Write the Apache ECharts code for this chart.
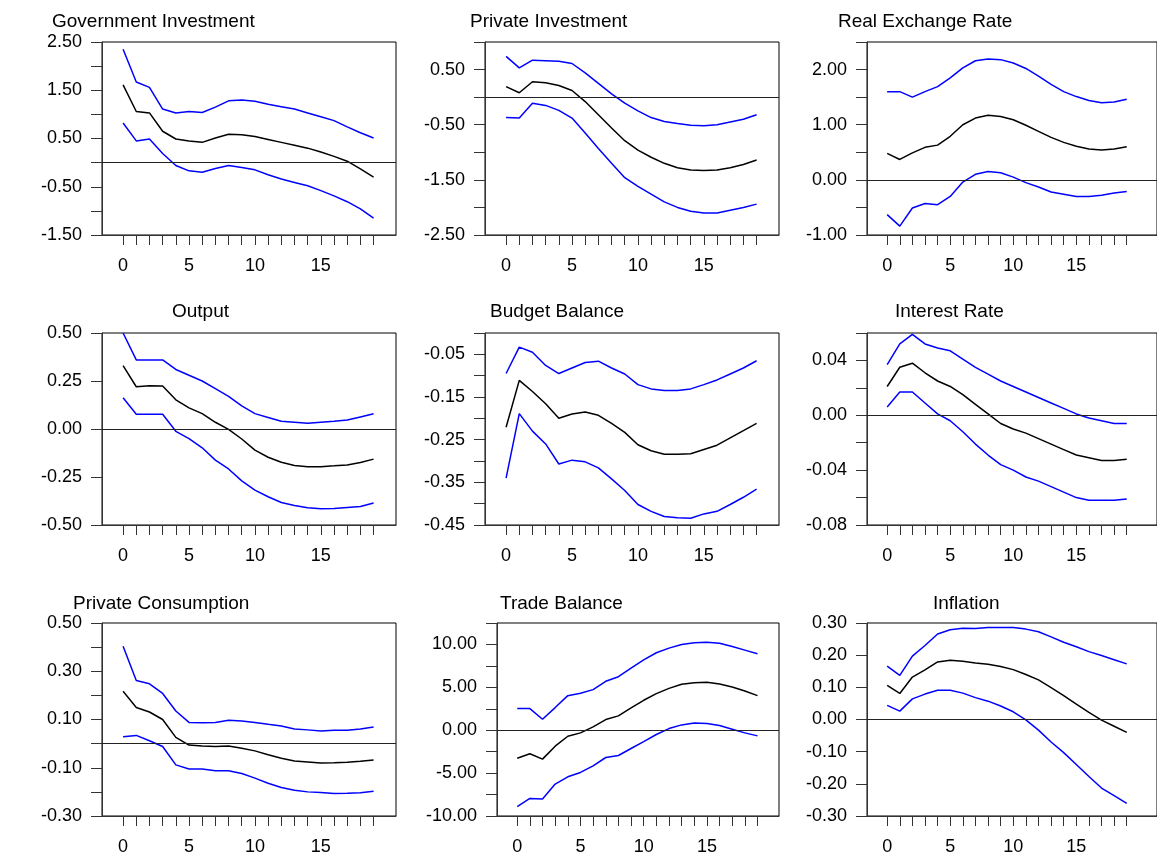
<!DOCTYPE html>
<html>
<head>
<meta charset="utf-8">
<script src="https://cdn.jsdelivr.net/npm/echarts@6/dist/echarts.min.js"></script>
<style>html,body{margin:0;padding:0;background:#fff}#chart{width:1157px;height:858px}</style>
</head>
<body>
<div id="chart"></div>
<script>
var steps = [0,1,2,3,4,5,6,7,8,9,10,11,12,13,14,15,16,17,18,19];
var xTicks = steps;
var xLabels = [0,5,10,15];

// Government Investment
var govUp  = [2.35,1.67,1.56,1.11,1.03,1.06,1.04,1.15,1.28,1.30,1.27,1.21,1.16,1.11,1.03,0.95,0.87,0.74,0.62,0.51];
var govMid = [1.61,1.06,1.03,0.65,0.49,0.45,0.42,0.51,0.59,0.58,0.54,0.48,0.42,0.36,0.30,0.22,0.13,0.03,-0.13,-0.30];
var govLo  = [0.82,0.45,0.49,0.19,-0.06,-0.17,-0.20,-0.12,-0.06,-0.10,-0.15,-0.25,-0.34,-0.41,-0.48,-0.58,-0.69,-0.81,-0.96,-1.15];
// Private Investment
var pinvUp  = [0.74,0.53,0.67,0.66,0.65,0.61,0.44,0.25,0.06,-0.11,-0.25,-0.37,-0.44,-0.48,-0.51,-0.52,-0.50,-0.45,-0.40,-0.32];
var pinvMid = [0.19,0.08,0.28,0.26,0.21,0.12,-0.08,-0.32,-0.56,-0.79,-0.96,-1.09,-1.20,-1.28,-1.32,-1.33,-1.32,-1.28,-1.22,-1.14];
var pinvLo  = [-0.37,-0.38,-0.11,-0.15,-0.24,-0.38,-0.65,-0.93,-1.20,-1.46,-1.62,-1.76,-1.90,-2.00,-2.07,-2.10,-2.10,-2.05,-2.00,-1.94];
// Real Exchange Rate
var rerUp  = [1.60,1.60,1.50,1.60,1.69,1.85,2.03,2.16,2.19,2.18,2.12,2.02,1.88,1.73,1.60,1.51,1.44,1.40,1.41,1.46];
var rerMid = [0.48,0.37,0.49,0.59,0.63,0.79,1.00,1.12,1.17,1.15,1.09,0.99,0.88,0.77,0.68,0.61,0.56,0.54,0.56,0.60];
var rerLo  = [-0.63,-0.84,-0.51,-0.43,-0.45,-0.30,-0.04,0.10,0.15,0.13,0.05,-0.05,-0.13,-0.22,-0.26,-0.30,-0.30,-0.28,-0.24,-0.21];
// Output
var outUp  = [0.50,0.36,0.36,0.36,0.31,0.28,0.25,0.21,0.17,0.12,0.08,0.06,0.04,0.035,0.03,0.035,0.04,0.047,0.063,0.079];
var outMid = [0.33,0.22,0.225,0.224,0.152,0.11,0.08,0.035,-0.002,-0.052,-0.11,-0.147,-0.173,-0.19,-0.196,-0.196,-0.192,-0.187,-0.175,-0.157];
var outLo  = [0.163,0.077,0.077,0.077,-0.012,-0.05,-0.098,-0.162,-0.208,-0.27,-0.318,-0.353,-0.383,-0.398,-0.41,-0.416,-0.414,-0.409,-0.404,-0.385];
// Budget Balance
var budUp  = [-0.095,-0.033,-0.045,-0.076,-0.095,-0.082,-0.069,-0.066,-0.082,-0.096,-0.121,-0.131,-0.135,-0.135,-0.131,-0.121,-0.110,-0.096,-0.082,-0.065];
var budMid = [-0.221,-0.111,-0.137,-0.166,-0.200,-0.190,-0.185,-0.193,-0.212,-0.233,-0.262,-0.276,-0.284,-0.284,-0.283,-0.273,-0.263,-0.246,-0.229,-0.212];
var budLo  = [-0.340,-0.189,-0.230,-0.260,-0.307,-0.298,-0.302,-0.316,-0.342,-0.369,-0.402,-0.418,-0.430,-0.433,-0.434,-0.424,-0.418,-0.402,-0.385,-0.366];
// Interest Rate
var irUp  = [0.037,0.052,0.059,0.052,0.049,0.047,0.041,0.035,0.030,0.025,0.021,0.017,0.013,0.009,0.005,0.001,-0.002,-0.004,-0.006,-0.006];
var irMid = [0.021,0.035,0.038,0.031,0.025,0.021,0.015,0.008,0.001,-0.006,-0.010,-0.013,-0.017,-0.021,-0.025,-0.029,-0.031,-0.033,-0.033,-0.032];
var irLo  = [0.006,0.017,0.017,0.009,0.001,-0.004,-0.012,-0.021,-0.029,-0.036,-0.040,-0.045,-0.048,-0.052,-0.056,-0.060,-0.062,-0.062,-0.062,-0.061];
// Private Consumption
var pcUp  = [0.404,0.262,0.248,0.208,0.135,0.088,0.087,0.088,0.097,0.094,0.088,0.080,0.073,0.061,0.057,0.052,0.055,0.055,0.061,0.069];
var pcMid = [0.217,0.150,0.131,0.100,0.026,-0.006,-0.010,-0.012,-0.010,-0.019,-0.030,-0.046,-0.061,-0.072,-0.076,-0.080,-0.079,-0.077,-0.073,-0.068];
var pcLo  = [0.029,0.034,0.012,-0.012,-0.088,-0.105,-0.105,-0.112,-0.112,-0.124,-0.143,-0.164,-0.182,-0.193,-0.200,-0.203,-0.207,-0.206,-0.204,-0.197];
// Trade Balance
var tbUp  = [2.52,2.52,1.28,2.64,4.03,4.30,4.73,5.70,6.24,7.25,8.20,9.03,9.57,10.00,10.20,10.27,10.15,9.77,9.34,8.91];
var tbMid = [-3.26,-2.75,-3.37,-1.86,-0.70,-0.31,0.39,1.24,1.67,2.60,3.49,4.26,4.88,5.35,5.54,5.58,5.39,5.04,4.57,4.03];
var tbLo  = [-8.91,-7.95,-8.02,-6.28,-5.43,-4.92,-4.15,-3.18,-2.95,-2.13,-1.32,-0.50,0.19,0.62,0.85,0.78,0.54,0.12,-0.31,-0.66];
// Inflation
var infUp  = [0.166,0.137,0.197,0.230,0.266,0.279,0.284,0.283,0.286,0.286,0.286,0.281,0.273,0.257,0.240,0.226,0.211,0.199,0.186,0.173];
var infMid = [0.106,0.081,0.132,0.154,0.179,0.184,0.181,0.176,0.172,0.165,0.155,0.140,0.123,0.099,0.074,0.048,0.022,-0.002,-0.021,-0.040];
var infLo  = [0.044,0.026,0.064,0.079,0.091,0.091,0.082,0.068,0.057,0.042,0.024,-0.001,-0.033,-0.070,-0.103,-0.140,-0.177,-0.213,-0.237,-0.261];

var panels = [
  {title:'Government Investment', tx:47, up:govUp, mid:govMid, lo:govLo, min:-1.5, max:2.5,
   ticks:[-1.5,-1,-0.5,0,0.5,1,1.5,2,2.5], labels:[-1.5,-0.5,0.5,1.5,2.5], zero:true},
  {title:'Private Investment', tx:465, up:pinvUp, mid:pinvMid, lo:pinvLo, min:-2.5, max:1.0,
   ticks:[-2.5,-2,-1.5,-1,-0.5,0,0.5,1], labels:[-2.5,-1.5,-0.5,0.5], zero:true},
  {title:'Real Exchange Rate', tx:833, up:rerUp, mid:rerMid, lo:rerLo, min:-1.0, max:2.5,
   ticks:[-1,-0.5,0,0.5,1,1.5,2,2.5], labels:[-1,0,1,2], zero:true},
  {title:'Output', tx:167, up:outUp, mid:outMid, lo:outLo, min:-0.5, max:0.5,
   ticks:[-0.5,-0.25,0,0.25,0.5], labels:[-0.5,-0.25,0,0.25,0.5], zero:true},
  {title:'Budget Balance', tx:485, up:budUp, mid:budMid, lo:budLo, min:-0.45, max:0,
   ticks:[-0.45,-0.4,-0.35,-0.3,-0.25,-0.2,-0.15,-0.1,-0.05,0], labels:[-0.45,-0.35,-0.25,-0.15,-0.05], zero:false},
  {title:'Interest Rate', tx:890, up:irUp, mid:irMid, lo:irLo, min:-0.08, max:0.06,
   ticks:[-0.08,-0.06,-0.04,-0.02,0,0.02,0.04,0.06], labels:[-0.08,-0.04,0,0.04], zero:true},
  {title:'Private Consumption', tx:68, up:pcUp, mid:pcMid, lo:pcLo, min:-0.3, max:0.5,
   ticks:[-0.3,-0.2,-0.1,0,0.1,0.2,0.3,0.4,0.5], labels:[-0.3,-0.1,0.1,0.3,0.5], zero:true},
  {title:'Trade Balance', tx:495, up:tbUp, mid:tbMid, lo:tbLo, min:-10, max:12.5,
   ticks:[-10,-7.5,-5,-2.5,0,2.5,5,7.5,10,12.5], labels:[-10,-5,0,5,10], zero:true},
  {title:'Inflation', tx:928, up:infUp, mid:infMid, lo:infLo, min:-0.3, max:0.3,
   ticks:[-0.3,-0.2,-0.1,0,0.1,0.2,0.3], labels:[-0.3,-0.2,-0.1,0,0.1,0.2,0.3], zero:true}
];

var rows = [[42,235],[333,525],[623,816]];
var titleTops = [7,297,589];
var cols = [[102,396],[485,779],[867,1172]];

var W = 1157, H = 858;
var font = 'Liberation Sans, Arial, sans-serif';
var grids = [], xAxes = [], yAxes = [], series = [], titles = [];

panels.forEach(function(p, i){
  var r = Math.floor(i / 3), c = i % 3;
  var l = cols[c][0], rt = cols[c][1];
  if (i == 7) l = 497;
  var xmax = c == 2 ? 21.4 : 20.7;
  grids.push({left:l, width:rt - l, top:rows[r][0], height:rows[r][1] - rows[r][0],
    show:true, borderColor:'#000', borderWidth:1, containLabel:false});
  titles.push({text:p.title, left:p.tx, top:titleTops[r],
    textStyle:{fontFamily:font, fontSize:19, fontWeight:'normal', color:'#000'}});
  xAxes.push({type:'value', gridIndex:i, min:-1.6, max:xmax,
    axisLine:{show:true, onZero:false, lineStyle:{color:'#333'}},
    axisTick:{show:true, inside:false, length:10, customValues:xTicks, lineStyle:{color:'#333'}},
    axisLabel:{customValues:xLabels, margin:22, fontFamily:font, fontSize:18, color:'#000'},
    splitLine:{show:false}});
  yAxes.push({type:'value', gridIndex:i, min:p.min, max:p.max,
    axisLine:{show:true, onZero:false, lineStyle:{color:'#333'}},
    axisTick:{show:true, inside:false, length:11, customValues:p.ticks, lineStyle:{color:'#333'}},
    axisLabel:{customValues:p.labels, margin:20, fontFamily:font, fontSize:18, color:'#000',
      formatter:function(v){ return v.toFixed(2); }},
    splitLine:{show:false}});
  var mk = function(arr){ return steps.map(function(s, k){ return [s, arr[k]]; }); };
  series.push({type:'line', xAxisIndex:i, yAxisIndex:i, data:mk(p.up), symbol:'none',
    lineStyle:{color:'#0000ff', width:1.5}, silent:true});
  series.push({type:'line', xAxisIndex:i, yAxisIndex:i, data:mk(p.mid), symbol:'none',
    lineStyle:{color:'#000', width:1.5}, silent:true,
    markLine: p.zero ? {silent:true, symbol:'none', label:{show:false},
      lineStyle:{color:'#222', width:1, type:'solid'}, data:[{yAxis:0}]} : undefined});
  series.push({type:'line', xAxisIndex:i, yAxisIndex:i, data:mk(p.lo), symbol:'none',
    lineStyle:{color:'#0000ff', width:1.5}, silent:true});
});

var chart = echarts.init(document.getElementById('chart'));
chart.setOption({
  animation:false,
  backgroundColor:'#fff',
  title:titles,
  grid:grids,
  xAxis:xAxes,
  yAxis:yAxes,
  series:series
});
</script>
</body>
</html>
